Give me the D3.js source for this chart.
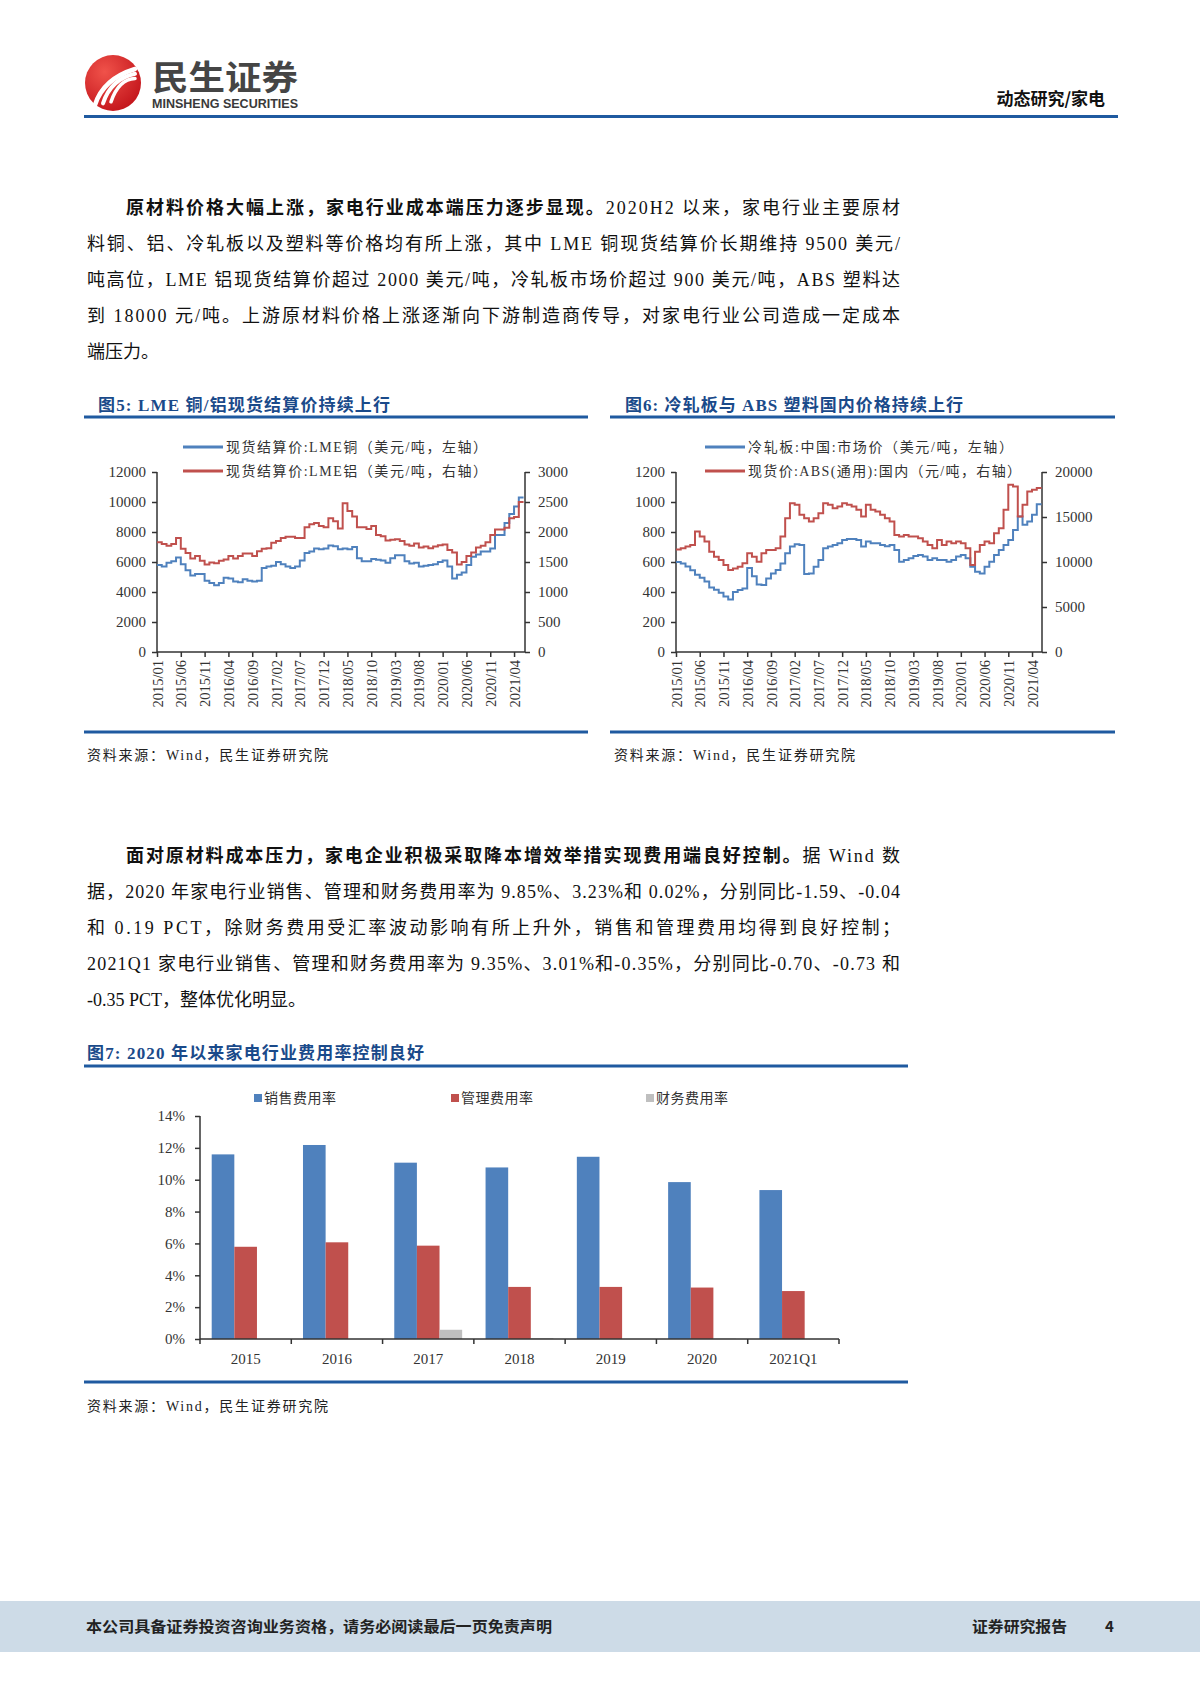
<!DOCTYPE html>
<html><head><meta charset="utf-8">
<script src="https://cdn.jsdelivr.net/npm/d3@7"></script>
<style>html,body{margin:0;padding:0;background:#fff}svg{display:block}</style>
</head><body>
<svg id="page" width="1200" height="1698"></svg>
<script>
// ---------------- DATA ----------------
// Figure 5: LME spot settlement prices, monthly from 2015/01 to 2021/05
const lmeCopper = [
 5800,5700,5950,6050,6300,5850,5450,5100,5200,5200,4750,4600,
 4450,4600,4950,4900,4700,4650,4850,4750,4700,4750,5600,5700,
 5750,6000,5850,5700,5600,5700,6100,6600,6700,6900,6850,6900,
 7100,7050,6850,6900,6850,7000,6250,6050,6050,6200,6150,6100,
 5950,6250,6450,6450,6050,5900,5950,5700,5750,5800,5850,6000,
 6100,5700,4900,5150,5300,5800,6350,6500,6700,6700,6900,7800,
 7800,8600,9200,9700,10300];
const lmeAluminum = [
 1830,1800,1770,1800,1900,1720,1650,1560,1600,1520,1460,1490,
 1480,1520,1540,1600,1560,1600,1640,1640,1600,1680,1720,1730,
 1820,1850,1900,1920,1920,1900,1900,2080,2130,2150,2100,2080,
 2230,2180,2060,2480,2350,2260,2080,2080,2050,2100,1950,1930,
 1860,1870,1880,1850,1790,1770,1810,1740,1760,1730,1760,1780,
 1790,1700,1660,1460,1500,1600,1660,1740,1770,1830,1950,2040,
 2040,2070,2230,2250,2500];
// Figure 6: cold-rolled sheet (USD/t) and ABS (CNY/t), monthly 2015/01 - 2021/05
const coldRolled = [
 600,590,570,545,515,495,470,430,415,395,370,350,
 400,413,424,560,505,450,446,490,524,546,590,658,
 703,718,714,520,524,569,613,691,703,714,725,747,
 754,754,747,703,736,725,725,714,705,714,680,602,
 613,625,640,647,636,613,625,613,613,602,613,636,
 647,625,569,535,524,569,602,647,680,714,747,814,
 903,848,870,915,985];
const absPrice = [
 11400,11520,11710,11890,13380,12820,12270,11150,10590,10220,9660,9110,
 9290,9480,9850,10960,10590,10040,10960,11340,11340,11520,12820,14870,
 16540,16350,15240,14870,14500,14870,15430,16540,16350,15980,16170,16540,
 16350,16170,15800,15050,16350,15800,15610,15240,14870,14500,13010,12820,
 13010,12820,12820,12640,12270,11890,11520,12450,11890,12270,12080,12270,
 12080,11520,9660,11150,11890,12270,12080,13200,13750,15800,18580,18400,
 15050,16350,17840,18030,18210];
const monthTickLabels = ["2015/01","2015/06","2015/11","2016/04","2016/09","2017/02","2017/07","2017/12",
 "2018/05","2018/10","2019/03","2019/08","2020/01","2020/06","2020/11","2021/04"];
const leftTicks5 = [0,2000,4000,6000,8000,10000,12000];
const rightTicks5 = [0,500,1000,1500,2000,2500,3000];
const leftTicks6 = [0,200,400,600,800,1000,1200];
const rightTicks6 = [0,5000,10000,15000,20000];
// Figure 7: expense ratios (%)
const expCategories = ["2015","2016","2017","2018","2019","2020","2021Q1"];
const expSeries = ["销售费用率","管理费用率","财务费用率"];
const salesRatio = [11.59,12.18,11.07,10.77,11.44,9.85,9.35];
const adminRatio = [5.79,6.07,5.86,3.27,3.27,3.23,3.01];
const financeRatio = [-0.10,-0.20,0.58,0.05,-0.17,0.02,-0.35];
const pctTicks = [0,2,4,6,8,10,12,14];

// ---------------- STYLE ----------------
const BLUE = "#4F81BD", RED = "#C0504D", GRAY = "#BFBFBF";
const RULE = "#1f5aa0", TITLE = "#1a4a8a";
const SERIF = '"Liberation Serif","Noto Sans CJK SC",serif';
const CJK = '"Liberation Serif","Noto Sans CJK SC",sans-serif';
const SANS = '"Noto Sans CJK SC","Noto Sans",sans-serif';

const svg = d3.select("#page");
svg.append("rect").attr("width",1200).attr("height",1698).attr("fill","#fff");

// ---------------- HEADER ----------------
const defs = svg.append("defs");
const rg = defs.append("radialGradient").attr("id","lg").attr("cx","35%").attr("cy","30%").attr("r","75%");
rg.append("stop").attr("offset","0%").attr("stop-color","#f0524a");
rg.append("stop").attr("offset","100%").attr("stop-color","#c4161c");
svg.append("circle").attr("cx",113).attr("cy",83).attr("r",28).attr("fill","url(#lg)");
const logoG = svg.append("g").attr("fill","none").attr("stroke","#fff").attr("stroke-linecap","round");
[[0,4.5],[8,4],[16,3.5]].forEach(([o,w])=>{
  logoG.append("path").attr("d",`M${95+o},${105-o*0.2} Q${103+o},${79} ${135},${69+o*0.6}`).attr("stroke-width",w);
});
svg.append("text").attr("x",152).attr("y",90).attr("font-family",SANS).attr("font-weight",700)
  .attr("font-size",34).attr("fill","#454545").attr("textLength",146).attr("lengthAdjust","spacingAndGlyphs").text("民生证券");
svg.append("text").attr("x",152).attr("y",108).attr("font-family",'"Liberation Sans Narrow","Liberation Sans",sans-serif').attr("font-weight",700)
  .attr("font-size",12).attr("fill","#3a3a3a").attr("textLength",146).attr("lengthAdjust","spacingAndGlyphs").text("MINSHENG SECURITIES");
svg.append("text").attr("x",1105).attr("y",105).attr("text-anchor","end").attr("font-family",SANS).attr("font-weight",700)
  .attr("font-size",17).attr("fill","#111").text("动态研究/家电");
svg.append("rect").attr("x",84).attr("y",115).attr("width",1034).attr("height",3).attr("fill",RULE);

// ---------------- PARAGRAPHS ----------------
function drawPara(lines, y0, lh, indentX, x0, x1){
  lines.forEach((ln,i)=>{
    const x = i===0 ? indentX : x0;
    const t = svg.append("text").attr("x",x).attr("y",y0+i*lh)
      .attr("font-family",SERIF).attr("font-size",18).attr("fill","#111");
    ln.forEach(p=>{
      t.append("tspan").attr("font-weight",p.b?700:400)
        .attr("font-family",p.b?SANS:SERIF).text(p.t);
    });
    if(i<lines.length-1) t.attr("textLength",x1-x).attr("lengthAdjust","spacing");
  });
}
drawPara([
 [{b:true,t:"原材料价格大幅上涨，家电行业成本端压力逐步显现。"},{t:"2020H2 以来，家电行业主要原材"}],
 [{t:"料铜、铝、冷轧板以及塑料等价格均有所上涨，其中 LME 铜现货结算价长期维持 9500 美元/"}],
 [{t:"吨高位，LME 铝现货结算价超过 2000 美元/吨，冷轧板市场价超过 900 美元/吨，ABS 塑料达"}],
 [{t:"到 18000 元/吨。上游原材料价格上涨逐渐向下游制造商传导，对家电行业公司造成一定成本"}],
 [{t:"端压力。"}]
], 214, 36, 126, 87, 900);

drawPara([
 [{b:true,t:"面对原材料成本压力，家电企业积极采取降本增效举措实现费用端良好控制。"},{t:"据 Wind 数"}],
 [{t:"据，2020 年家电行业销售、管理和财务费用率为 9.85%、3.23%和 0.02%，分别同比-1.59、-0.04"}],
 [{t:"和 0.19 PCT，除财务费用受汇率波动影响有所上升外，销售和管理费用均得到良好控制；"}],
 [{t:"2021Q1 家电行业销售、管理和财务费用率为 9.35%、3.01%和-0.35%，分别同比-0.70、-0.73 和"}],
 [{t:"-0.35 PCT，整体优化明显。"}]
], 862, 36, 126, 87, 900);

// ---------------- COMMON ----------------
function figTitle(x, y, w, txt){
  svg.append("text").attr("x",x).attr("y",y).attr("font-family",SERIF).attr("font-weight",700)
    .attr("font-size",17).attr("fill",TITLE).attr("textLength",w).attr("lengthAdjust","spacing").text(txt);
}
function rule(x0,x1,y){ svg.append("rect").attr("x",x0).attr("y",y-1.5).attr("width",x1-x0).attr("height",3).attr("fill",RULE); }
function source(x,y){
  svg.append("text").attr("x",x).attr("y",y).attr("font-family",CJK).attr("font-size",14).attr("fill","#222")
    .attr("textLength",241).attr("lengthAdjust","spacing").text("资料来源：Wind，民生证券研究院");
}

function dualLine(cfg){
  const g = svg.append("g");
  const x = d3.scaleLinear().domain([0, cfg.xEnd]).range([cfg.x0, cfg.x1]);
  const yL = d3.scaleLinear().domain([0, cfg.lMax]).range([652, 472]);
  const yR = d3.scaleLinear().domain([0, cfg.rMax]).range([652, 472]);
  const axL = g.append("g").attr("transform",`translate(${cfg.x0},0)`)
    .call(d3.axisLeft(yL).tickValues(cfg.lTicks).tickSize(5).tickPadding(6).tickFormat(d3.format("d")));
  const axR = g.append("g").attr("transform",`translate(${cfg.x1},0)`)
    .call(d3.axisRight(yR).tickValues(cfg.rTicks).tickSize(5).tickPadding(8).tickFormat(d3.format("d")));
  const tickIdx = cfg.tickLabels.map((d,i)=>i*5);
  const axB = g.append("g").attr("transform",`translate(0,652)`)
    .call(d3.axisBottom(x).tickValues(tickIdx).tickSize(5).tickFormat((d,i)=>cfg.tickLabels[i]));
  [axL,axR,axB].forEach(a=>{
    a.select(".domain").attr("stroke","#333").attr("stroke-width",1.5);
    a.selectAll(".tick line").attr("stroke","#333").attr("stroke-width",1.5);
    a.selectAll("text").attr("font-family",SERIF).attr("font-size",15).attr("fill","#333");
  });
  axL.select(".domain").attr("d",`M-0,${472}V${652}`);
  axR.select(".domain").attr("d",`M0,${472}V${652}`);
  axB.select(".domain").attr("d",`M${cfg.x0},0H${cfg.x1}`);
  axB.selectAll("text").attr("transform","rotate(-90)").attr("text-anchor","end")
    .attr("x",-8).attr("y",0).attr("dy","0.35em").attr("font-size",14.5);
  const lineL = d3.line().x((d,i)=>x(i)).y(d=>yL(d)).curve(d3.curveStepAfter);
  const lineR = d3.line().x((d,i)=>x(i)).y(d=>yR(d)).curve(d3.curveStepAfter);
  const ext = a => a.concat([a[a.length-1]]);
  g.append("path").datum(ext(cfg.left)).attr("d",lineL).attr("fill","none").attr("stroke",BLUE).attr("stroke-width",2);
  g.append("path").datum(ext(cfg.right)).attr("d",lineR).attr("fill","none").attr("stroke",RED).attr("stroke-width",2);
  [[cfg.legL,BLUE,447,cfg.legW[0]],[cfg.legR,RED,471,cfg.legW[1]]].forEach(([t,c,y,w])=>{
    g.append("line").attr("x1",cfg.legX).attr("x2",cfg.legX+40).attr("y1",y).attr("y2",y).attr("stroke",c).attr("stroke-width",3);
    g.append("text").attr("x",cfg.legX+43).attr("y",y+5).attr("font-family",CJK).attr("font-size",14).attr("fill","#333")
      .attr("textLength",w).attr("lengthAdjust","spacing").text(t);
  });
}

// ---------------- FIGURE 5 ----------------
figTitle(98, 411, 292, "图5: LME 铜/铝现货结算价持续上行");
rule(84, 588, 417);
dualLine({left:lmeCopper, right:lmeAluminum, x0:157, x1:525, xEnd:77.3,
  lMax:12000, rMax:3000, lTicks:leftTicks5, rTicks:rightTicks5, tickLabels:monthTickLabels,
  legX:183, legW:[261,261],
  legL:"现货结算价:LME铜（美元/吨，左轴）", legR:"现货结算价:LME铝（美元/吨，右轴）"});
rule(84, 588, 732);
source(87, 760);

// ---------------- FIGURE 6 ----------------
figTitle(625, 411, 338, "图6: 冷轧板与 ABS 塑料国内价格持续上行");
rule(610, 1115, 417);
dualLine({left:coldRolled, right:absPrice, x0:676, x1:1042, xEnd:77.1,
  lMax:1200, rMax:20000, lTicks:leftTicks6, rTicks:rightTicks6, tickLabels:monthTickLabels,
  legX:705, legW:[265,273],
  legL:"冷轧板:中国:市场价（美元/吨，左轴）", legR:"现货价:ABS(通用):国内（元/吨，右轴）"});
rule(610, 1115, 732);
source(614, 760);

// ---------------- FIGURE 7 ----------------
figTitle(87, 1059, 337, "图7: 2020 年以来家电行业费用率控制良好");
rule(84, 908, 1066);
(function(){
  const g = svg.append("g");
  const X0 = 200, X1 = 839;
  const x = d3.scaleBand().domain(expCategories).range([X0, X1]).padding(0);
  const xs = d3.scaleBand().domain(expSeries).range([11.7, x.bandwidth()-11.7]).padding(0);
  const y = d3.scaleLinear().domain([0,14]).range([1339,1116]);
  const cols = [BLUE, RED, GRAY];
  const vals = [salesRatio, adminRatio, financeRatio];
  expSeries.forEach((s,si)=>{
    g.selectAll(null).data(vals[si]).enter().append("rect")
      .attr("x",(d,i)=>x(expCategories[i])+xs(s)).attr("width",xs.bandwidth())
      .attr("y",d=>y(Math.max(0,d))).attr("height",d=>y(0)-y(Math.max(0,d)))
      .attr("fill",cols[si]);
  });
  const axL = g.append("g").attr("transform",`translate(${X0},0)`)
    .call(d3.axisLeft(y).tickValues(pctTicks).tickSize(5).tickPadding(10).tickFormat(d=>d+"%"));
  const axB = g.append("g").attr("transform","translate(0,1339)")
    .call(d3.axisBottom(x).tickSize(0).tickPadding(14));
  axB.selectAll(".tickedge").data(d3.range(expCategories.length+1)).enter().append("line")
    .attr("x1",i=>X0+i*x.bandwidth()).attr("x2",i=>X0+i*x.bandwidth()).attr("y1",0).attr("y2",5)
    .attr("stroke","#333").attr("stroke-width",1.5);
  [axL,axB].forEach(a=>{
    a.select(".domain").attr("stroke","#333").attr("stroke-width",1.5);
    a.selectAll(".tick line").attr("stroke","#333").attr("stroke-width",1.5);
    a.selectAll("text").attr("font-family",SERIF).attr("font-size",15).attr("fill","#333");
  });
  axL.select(".domain").attr("d","M0,1116V1339");
  axB.select(".domain").attr("d",`M${X0},0H${X1}`);
  const legX = [254, 451, 646];
  expSeries.forEach((s,i)=>{
    g.append("rect").attr("x",legX[i]).attr("y",1094).attr("width",8).attr("height",8).attr("fill",cols[i]);
    g.append("text").attr("x",legX[i]+10).attr("y",1103).attr("font-family",CJK).attr("font-size",14)
      .attr("fill","#333").attr("textLength",72).attr("lengthAdjust","spacing").text(s);
  });
})();
rule(84, 908, 1382);
source(87, 1411);

// ---------------- FOOTER ----------------
svg.append("rect").attr("x",0).attr("y",1601).attr("width",1200).attr("height",51).attr("fill","#cddbe7");
svg.append("text").attr("x",86).attr("y",1632).attr("font-family",SANS).attr("font-weight",700).attr("font-size",15)
  .attr("fill","#222").attr("textLength",466).attr("lengthAdjust","spacingAndGlyphs")
  .text("本公司具备证券投资咨询业务资格，请务必阅读最后一页免责声明");
svg.append("text").attr("x",972).attr("y",1632).attr("font-family",SANS).attr("font-weight",700).attr("font-size",15)
  .attr("fill","#222").attr("textLength",95).attr("lengthAdjust","spacingAndGlyphs").text("证券研究报告");
svg.append("text").attr("x",1105).attr("y",1632).attr("font-family",SANS).attr("font-weight",700).attr("font-size",15)
  .attr("fill","#222").text("4");
</script>
</body></html>
